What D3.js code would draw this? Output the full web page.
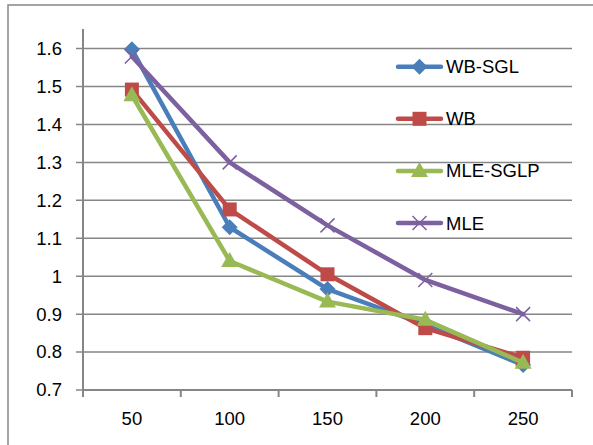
<!DOCTYPE html>
<html><head><meta charset="utf-8">
<script src="https://cdn.jsdelivr.net/npm/d3@7"></script>
<style>html,body{margin:0;padding:0;background:#fff;}svg{display:block;}</style>
</head><body>
<script>
const categories = ["50","100","150","200","250"];
const yTicks = [0.7,0.8,0.9,1.0,1.1,1.2,1.3,1.4,1.5,1.6];
const wbSgl   = [1.598,1.129,0.966,0.872,0.766];
const wb      = [1.492,1.176,1.005,0.863,0.785];
const mleSglp = [1.477,1.040,0.933,0.885,0.772];
const mle     = [1.579,1.300,1.134,0.990,0.900];
const seriesNames = ["WB-SGL","WB","MLE-SGLP","MLE"];

const series = [
  {name:seriesNames[0], values:wbSgl, color:"#4A7EBB", marker:"diamond"},
  {name:seriesNames[1], values:wb, color:"#BE4B48", marker:"square"},
  {name:seriesNames[2], values:mleSglp, color:"#98B954", marker:"triangle"},
  {name:seriesNames[3], values:mle, color:"#7D60A0", marker:"x"}
];

const W=593,H=445;
const svg=d3.select("body").append("svg").attr("width",W).attr("height",H);
const font="'Liberation Sans', Arial, sans-serif";
const grid="#868686";

// outer frame (top and left visible)
svg.append("path").attr("d","M8,445 L8,5 L593,5").attr("fill","none").attr("stroke",grid).attr("stroke-width",1.5);

const x=d3.scaleBand().domain(categories).range([83,572]);
const y=d3.scaleLinear().domain([0.7,1.6]).range([390,48.6]);

// gridlines
svg.append("g").selectAll("line").data(yTicks).join("line")
  .attr("x1",76).attr("x2",572).attr("y1",d=>y(d)).attr("y2",d=>y(d))
  .attr("stroke",grid).attr("stroke-width",1.5);

// y axis
const yAxis=d3.axisLeft(y).tickValues(yTicks).tickFormat(d3.format("")).tickSize(0).tickPadding(21);
const gy=svg.append("g").attr("transform","translate(83,0)").call(yAxis);
gy.select(".domain").remove();
gy.selectAll("text").attr("font-family",font).attr("font-size",18.5).attr("fill","#000");
svg.append("line").attr("x1",83).attr("x2",83).attr("y1",29).attr("y2",397).attr("stroke",grid).attr("stroke-width",2);

// x axis
const xAxis=d3.axisBottom(x).tickSize(0).tickPadding(22);
const gx=svg.append("g").attr("transform","translate(0,390)").call(xAxis);
gx.select(".domain").remove();
gx.selectAll("text").attr("font-family",font).attr("font-size",18.5).attr("fill","#000");
const bounds=categories.map(c=>x(c)).concat([x(categories[categories.length-1])+x.bandwidth()]);
svg.append("line").attr("x1",83).attr("x2",572).attr("y1",390).attr("y2",390).attr("stroke",grid).attr("stroke-width",2);
svg.append("g").selectAll("line").data(bounds).join("line")
  .attr("x1",d=>d).attr("x2",d=>d).attr("y1",390).attr("y2",397).attr("stroke",grid).attr("stroke-width",2);

function drawMarker(g,type,color,cx,cy){
  if(type==="diamond"){
    g.append("path").attr("d",`M${cx},${cy-8} L${cx+8},${cy} L${cx},${cy+8} L${cx-8},${cy} Z`).attr("fill",color);
  } else if(type==="square"){
    g.append("rect").attr("x",cx-7).attr("y",cy-7).attr("width",14).attr("height",14).attr("fill",color);
  } else if(type==="triangle"){
    g.append("path").attr("d",`M${cx},${cy-9} L${cx+8.5},${cy+6} L${cx-8.5},${cy+6} Z`).attr("fill",color);
  } else {
    g.append("path").attr("d",`M${cx-7},${cy-7} L${cx+7},${cy+7} M${cx+7},${cy-7} L${cx-7},${cy+7}`).attr("stroke",color).attr("stroke-width",1.5).attr("fill","none");
  }
}

const line=d3.line().x((d,i)=>x(categories[i])+x.bandwidth()/2).y(d=>y(d));
series.forEach(s=>{
  const g=svg.append("g");
  g.append("path").attr("d",line(s.values)).attr("fill","none").attr("stroke",s.color).attr("stroke-width",4.5).attr("stroke-linejoin","round").attr("stroke-linecap","round");
  s.values.forEach((v,i)=>drawMarker(g,s.marker,s.color,x(categories[i])+x.bandwidth()/2,y(v)));
});

// legend
const legY=d3.scaleLinear().domain([0,3]).range([66.7,223]);
series.forEach((s,i)=>{
  const g=svg.append("g");
  const cy=legY(i);
  g.append("line").attr("x1",398).attr("x2",441).attr("y1",cy).attr("y2",cy).attr("stroke",s.color).attr("stroke-width",4.5).attr("stroke-linecap","round");
  drawMarker(g,s.marker,s.color,419.5,cy);
  g.append("text").attr("x",446).attr("y",cy+6.5).attr("font-family",font).attr("font-size",18.5).attr("fill","#000").text(s.name);
});
</script>
</body></html>
